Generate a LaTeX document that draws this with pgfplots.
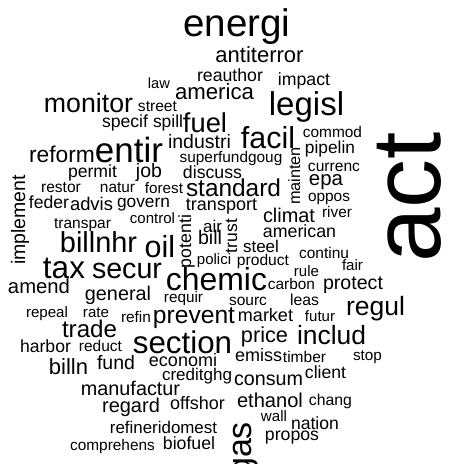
\documentclass[border=0pt]{standalone}
\usepackage{fontspec}
\setmainfont{Liberation Sans}
\usepackage{pgfplots}
\usepackage{pgfplotstable}
\pgfplotsset{compat=1.18}

% x, y: baseline centre in pixels (y from top); s: font size; r: rotation
\pgfplotstableread{
x y s r w
237 37 38.5 0 energi
259.5 63 22 0 antiterror
230 82 17.7 0 reauthor
304 86 17.7 0 impact
159 89 14.7 0 law
214.5 100 22.2 0 america
306.5 115 33 0 legisl
88.5 113 26.7 0 monitor
157.5 112 15.6 0 street
205 132 27.3 0 fuel
125 127 17.6 0 specif
168 127 17.4 0 spill
268 148 30.4 0 facil
332.5 137 15.4 0 commod
330 153 17.3 0 pipelin
199.5 148 19.5 0 industri
129 162 35 0 entir
62 162 22.8 0 reform
231 162 15.4 0 superfundgoug
300 176 16.3 90 mainten
334 171 15.6 0 currenc
326 185 20.4 0 epa
329 201 15.4 0 oppos
233.5 196 24.4 0 standard
212.5 178 17.7 0 discuss
149 177 19.5 0 job
92.5 177 17.6 0 permit
25 220 19.5 90 implement
61 192 15.6 0 restor
117.5 192 15.4 0 natur
164 193 15.2 0 forest
49 208 17.6 0 feder
91.5 210 18.4 0 advis
143.5 207 17.3 0 govern
221.5 210 18 0 transport
289 222 19.9 0 climat
337 217 15.4 0 river
152.5 223 15 0 control
82.5 228 15.5 0 transpar
191 241.5 17.7 90 potenti
212.5 232 17 0 air
210 244 19.6 0 bill
237 236 17.5 90 trust
261 252 17 0 steel
299.5 237 17.8 0 american
324 258 15.5 0 continu
352.5 270 15.1 0 fair
306.5 276 15 0 rule
214 264 15 0 polici
263 265 15.6 0 product
98.5 252 28.9 0 billnhr
160 257 30.5 0 oil
64 278 31.5 0 tax
127 278 28.6 0 secur
216.5 290 31.9 0 chemic
291.5 289 15.4 0 carbon
353 289 19.6 0 protect
39 293 20.3 0 amend
118 300 19.8 0 general
183.5 302 15.3 0 requir
248 305 15.5 0 sourc
304.5 305 15.8 0 leas
375.5 315 26.5 0 regul
47 317 15.1 0 repeal
96 317 15.1 0 rate
136 322 15.4 0 refin
194 323 24.6 0 prevent
265.5 321 18 0 market
320 321 15 0 futur
89.5 337 24.1 0 trade
182.5 353 31.3 0 section
264.5 342 21.7 0 price
331.5 344 26.4 0 includ
45.5 352 17.6 0 harbor
100.5 351 15.5 0 reduct
258.5 361 18 0 emiss
304.5 362 15.5 0 timber
367.5 360 15.3 0 stop
68.5 374 22 0 billn
116 369 19.5 0 fund
183 366 18 0 economi
197 380 17 0 creditghg
268.5 385 19.7 0 consum
325.5 378 17.6 0 client
130.5 395 19.8 0 manufactur
131 412 20 0 regard
197.5 409 18 0 offshor
270 407 20.1 0 ethanol
330.5 405 15.8 0 chang
274 421 15.1 0 wall
315 429 17.6 0 nation
292 440 17.7 0 propos
163.5 433 16.9 0 refineridomest
112.5 450 15.4 0 comprehens
189 449 17.7 0 biofuel
251 449.4 34 90 gas
440 197.5 98 90 act
}\words

\begin{document}
\begin{tikzpicture}
\begin{axis}[
  scale only axis,
  width=451bp, height=464bp,
  xmin=0, xmax=451, ymin=0, ymax=464,
  y dir=reverse,
  hide axis,
  clip=false,
]
\addplot[only marks, mark=none,
  point meta=explicit symbolic,
  visualization depends on={\thisrow{s} \as \wsize},
  visualization depends on={\thisrow{r} \as \wangle},
  nodes near coords={\pgfplotspointmeta},
  every node near coord/.append style={anchor=base, inner sep=0pt,
    font=\fontsize{10bp}{12bp}\selectfont, scale=\wsize/10,
    rotate=\wangle, text=black},
] table[x=x, y=y, meta=w] {\words};
\end{axis}
\pgfresetboundingbox
\useasboundingbox (current axis.south west) rectangle (current axis.north east);
\end{tikzpicture}
\end{document}
